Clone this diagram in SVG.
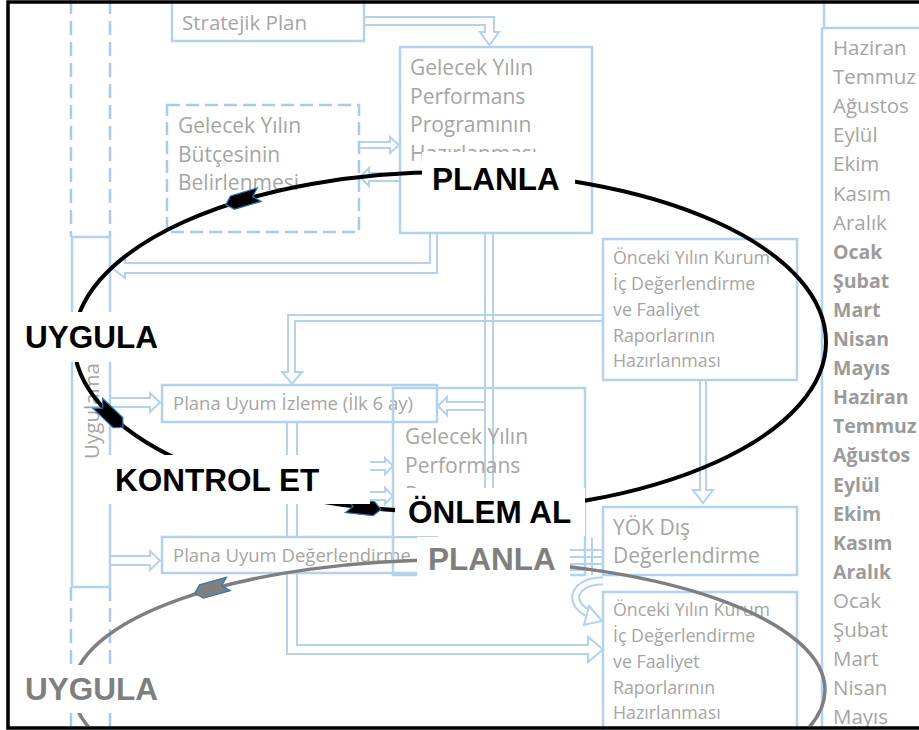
<svg xmlns="http://www.w3.org/2000/svg" width="919" height="730" viewBox="0 0 919 730">
<style>
.box{fill:none;stroke:#B4D1ED;stroke-width:2.5}
.boxw{fill:#fff;stroke:#B4D1ED;stroke-width:2.5}
.dash{fill:none;stroke:#A9CBEA;stroke-width:2.5;stroke-dasharray:13 6}
.vd{fill:none;stroke:#A9CBEA;stroke-width:2.5;stroke-dasharray:14 7}
.ar{fill:none;stroke:#B4D1ED;stroke-width:2}
.t{font-family:"Open Sans","Liberation Sans",sans-serif;fill:#A5A5A5}
.m{font-family:"Open Sans","Liberation Sans",sans-serif;font-size:20.5px;fill:#A5A5A5}
.mb{font-weight:bold;font-size:19.5px;fill:#9B9B9B}
.lbl{font-family:"Liberation Sans",Arial,sans-serif;font-weight:bold;font-size:31.5px}
.bg{fill:#fff}
</style>
<defs>
<path id="ah" d="M-17,-7 L11,-7 L18,0 L11,7 L-17,7 L-10,0 Z"/>
<clipPath id="clip"><rect x="0" y="0" width="919" height="726"/></clipPath>
</defs>
<rect x="0" y="0" width="919" height="730" fill="#fff"/>

<g id="connectors">
<path class="ar" d="M364,17 H494 V32 H499 L489.5,45 L480,32 H485 V25 H364"/>
<path class="ar" d="M359,142 H390 V137 L399,145 L390,153 V148 H359"/>
<path class="ar" d="M400,173 H369 V168 L360,177 L369,186 V181 H400"/>
<path class="ar" d="M430,233 V263 H125 V258 L112,268 L125,278 V273 H437 V233"/>
<path class="ar" d="M485,233 V500 M493,233 V500"/>
<path class="ar" d="M485,402 H447 V397 L438,406 L447,415 V410 H485"/>
<path class="ar" d="M603,315 H288 V372 H282 L292,384 L302,372 H295 V321 H603"/>
<path class="ar" d="M110,398 H150 V393 L160,402.5 L150,412 V407 H110"/>
<path class="ar" d="M110,556 H150 V551 L160,560.5 L150,570 V565 H110"/>
<path class="ar" d="M287,422 V654 H588 V662 L603,649.5 L588,637 V645 H297 V422"/>
<path class="ar" d="M700,380 V490 H693 L703,503 L713,490 H706 V380"/>
<path class="ar" d="M297,462 H385 V458 L393,466 L385,474 V470 H297"/>
<path class="ar" d="M297,492 H385 V488 L393,496 L385,504 V500 H297"/>
<path class="ar" d="M568,550 H603 M568,557 H603 M568,564 H603 M568,570 H603 M592,538 V575"/>
<path d="M603,581 C575,580 565,603 590,614" fill="none" stroke="#B4D1ED" stroke-width="9"/>
<path d="M603,581 C575,580 565,603 590,614" fill="none" stroke="#fff" stroke-width="5"/>
<path d="M589,606 L602,621 L584,625 Z" fill="#fff" stroke="#B4D1ED" stroke-width="2"/>
<path class="vd" d="M71,0 V237 M110,0 V237 M71,587 V730 M110,587 V730"/>
</g>

<g id="stratejik">
<rect class="box" x="172" y="-5" width="192" height="46"/>
<text class="t" x="182" y="30" font-size="20.5">Stratejik Plan</text>
</g>

<g id="performans1">
<rect class="box" x="400" y="47" width="192" height="186"/>
<text class="t" font-size="21"><tspan x="410" y="75">Gelecek Yılın</tspan><tspan x="410" y="103.7">Performans</tspan><tspan x="410" y="132.4">Programının</tspan><tspan x="410" y="161">Hazırlanması</tspan></text>
</g>

<g id="butce">
<rect class="dash" x="167" y="105" width="192" height="127"/>
<text class="t" font-size="21"><tspan x="178" y="133">Gelecek Yılın</tspan><tspan x="178" y="161.5">Bütçesinin</tspan><tspan x="178" y="190">Belirlenmesi</tspan></text>
</g>

<g id="uygulama">
<rect class="box" x="72" y="237" width="38" height="350"/>
<text class="t" font-size="20.5" text-anchor="middle" transform="translate(99,411) rotate(-90)">Uygulama</text>
</g>

<g id="onceki1">
<rect class="box" x="603" y="239" width="194" height="141"/>
<text class="t" font-size="17.8"><tspan x="613" y="264">Önceki Yılın Kurum</tspan><tspan x="613" y="290">İç Değerlendirme</tspan><tspan x="613" y="316">ve Faaliyet</tspan><tspan x="613" y="342">Raporlarının</tspan><tspan x="613" y="367">Hazırlanması</tspan></text>
</g>

<g id="izleme">
<rect class="boxw" x="162" y="385" width="275" height="37"/>
<text class="t" x="173" y="410" font-size="18.5">Plana Uyum İzleme (İlk 6 ay)</text>
</g>

<g id="degerlendirme">
<rect class="boxw" x="162" y="537" width="275" height="36"/>
<text class="t" x="173" y="562" font-size="18.5">Plana Uyum Değerlendirme</text>
</g>

<g id="performans2">
<rect class="box" x="393" y="388" width="192" height="187"/>
<text class="t" font-size="21"><tspan x="405" y="444">Gelecek Yılın</tspan><tspan x="405" y="473">Performans</tspan><tspan x="405" y="502">Programının</tspan></text>
</g>

<g id="yok">
<rect class="box" x="603" y="507" width="194" height="68"/>
<text class="t" font-size="21"><tspan x="613" y="535">YÖK Dış</tspan><tspan x="613" y="563">Değerlendirme</tspan></text>
</g>

<g id="onceki2">
<rect class="box" x="603" y="592" width="194" height="160"/>
<text class="t" font-size="17.8"><tspan x="613" y="616">Önceki Yılın Kurum</tspan><tspan x="613" y="642">İç Değerlendirme</tspan><tspan x="613" y="668">ve Faaliyet</tspan><tspan x="613" y="693.5">Raporlarının</tspan><tspan x="613" y="719">Hazırlanması</tspan></text>
</g>

<g id="months">
<path class="box" d="M824,0 V28 M822,28 H919 M822,28 V730"/>
<text class="m">
<tspan x="833" y="55">Haziran</tspan>
<tspan x="833" y="84.1">Temmuz</tspan>
<tspan x="833" y="113.2">Ağustos</tspan>
<tspan x="833" y="142.3">Eylül</tspan>
<tspan x="833" y="171.4">Ekim</tspan>
<tspan x="833" y="200.5">Kasım</tspan>
<tspan x="833" y="229.6">Aralık</tspan>
<tspan class="mb" x="833" y="258.7">Ocak</tspan>
<tspan class="mb" x="833" y="287.8">Şubat</tspan>
<tspan class="mb" x="833" y="316.9">Mart</tspan>
<tspan class="mb" x="833" y="346">Nisan</tspan>
<tspan class="mb" x="833" y="375.1">Mayıs</tspan>
<tspan class="mb" x="833" y="404.2">Haziran</tspan>
<tspan class="mb" x="833" y="433.3">Temmuz</tspan>
<tspan class="mb" x="833" y="462.4">Ağustos</tspan>
<tspan class="mb" x="833" y="491.5">Eylül</tspan>
<tspan class="mb" x="833" y="520.6">Ekim</tspan>
<tspan class="mb" x="833" y="549.7">Kasım</tspan>
<tspan class="mb" x="833" y="578.8">Aralık</tspan>
<tspan x="833" y="607.9">Ocak</tspan>
<tspan x="833" y="637">Şubat</tspan>
<tspan x="833" y="666.1">Mart</tspan>
<tspan x="833" y="695.2">Nisan</tspan>
<tspan x="833" y="724.3">Mayıs</tspan>
</text>
</g>

<g id="cycles">
<ellipse cx="450" cy="342" rx="376" ry="170" fill="none" stroke="#000" stroke-width="4"/>
<ellipse cx="449" cy="690" rx="376" ry="130" fill="none" stroke="#7F7F7F" stroke-width="3.5" clip-path="url(#clip)"/>
<use href="#ah" transform="translate(243,199.5) rotate(163.4)" fill="#000" stroke="#2E75B6" stroke-width="1.2"/>
<use href="#ah" transform="translate(110,415) rotate(43.6)" fill="#000" stroke="#2E75B6" stroke-width="1.2"/>
<use href="#ah" transform="translate(363,507.5) rotate(6.1)" fill="#000" stroke="#2E75B6" stroke-width="1.2"/>
<use href="#ah" transform="translate(212,588.5) rotate(164.3)" fill="#7F7F7F" stroke="#2E75B6" stroke-width="1.2"/>
</g>

<g id="label-planla">
<rect class="bg" x="422" y="152" width="153" height="50"/>
<text class="lbl" x="432" y="190" fill="#000">PLANLA</text>
</g>
<g id="label-uygula">
<rect class="bg" x="12" y="312" width="158" height="50"/>
<text class="lbl" x="25" y="348" fill="#000">UYGULA</text>
</g>
<g id="label-kontrol">
<rect class="bg" x="105" y="455" width="265" height="49"/>
<text class="lbl" x="115" y="491" fill="#000">KONTROL ET</text>
</g>
<g id="label-onlem">
<rect class="bg" x="395" y="488" width="190" height="48"/>
<text class="lbl" x="408" y="523" fill="#000">ÖNLEM AL</text>
</g>
<g id="label-planla2">
<rect class="bg" x="417" y="537" width="153" height="45"/>
<text class="lbl" x="428" y="570" fill="#7F7F7F">PLANLA</text>
</g>
<g id="label-uygula2">
<rect class="bg" x="12" y="665" width="158" height="48"/>
<text class="lbl" x="25" y="700" fill="#7F7F7F">UYGULA</text>
</g>

<rect x="8" y="2" width="930" height="726" fill="none" stroke="#000" stroke-width="3.5"/>
</svg>
